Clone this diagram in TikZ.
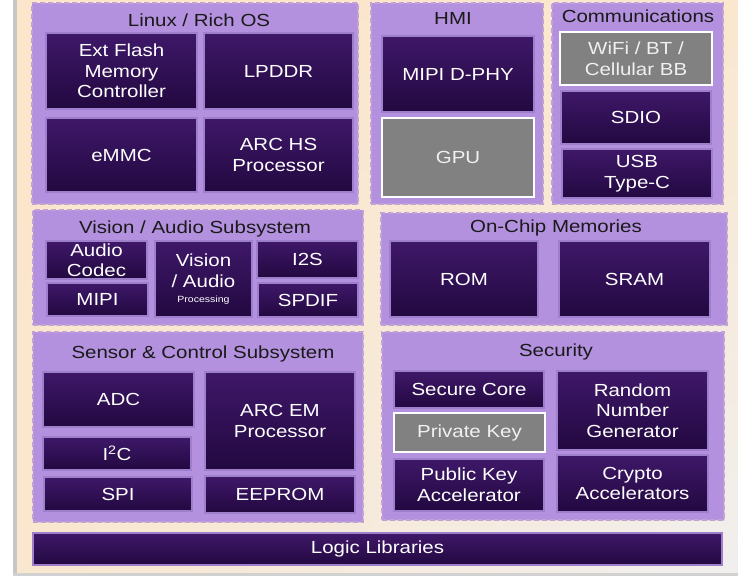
\documentclass[tikz,border=0pt]{standalone}
\usepackage{fontspec}
\setmainfont{Liberation Sans}[FakeStretch=1.17]
\usetikzlibrary{shadows,shadings}

\definecolor{grpfill}{HTML}{B391DE}
\definecolor{grpedge}{HTML}{C2A2D6}
\definecolor{boxtop}{HTML}{3F1869}
\definecolor{boxbot}{HTML}{220840}
\definecolor{boxedge}{HTML}{9D7FCC}
\definecolor{greybox}{HTML}{818181}
\definecolor{peach}{HTML}{FBE6CB}
\definecolor{paper}{HTML}{F1EFEE}
\definecolor{framegrey}{HTML}{C6C6C6}
\definecolor{ink}{HTML}{1A1A1A}

\tikzset{
  txt/.style={font=\fontsize{17.5}{20.7}\selectfont},
  group/.style={fill=grpfill, draw=grpedge, line width=1.4pt,
    dash pattern=on 5pt off 3pt, inner sep=0pt,
    drop shadow={shadow xshift=0.8pt, shadow yshift=-0.8pt, opacity=0.18}},
  grouptitle/.style={txt, text=ink, anchor=base, inner sep=0pt},
  block/.style={txt, text=white, align=center, inner sep=0pt,
    top color=boxtop, bottom color=boxbot, draw=boxedge, line width=1.1pt,
    drop shadow={shadow xshift=1.2pt, shadow yshift=-1.2pt, opacity=0.3}},
  greyblock/.style={txt, text=white!94!black, align=center, inner sep=0pt,
    fill=greybox, draw=white, line width=1.8pt,
    drop shadow={shadow xshift=1.2pt, shadow yshift=-1.2pt, opacity=0.3}},
}

% rectangle node from its corners: style, name, x1, y1, x2, y2, text
\newcommand\blk[7]{%
  \node[#1, minimum width={#5-#3}, minimum height={#6-#4}]
    (#2) at ({(#3+#5)/2},{(#4+#6)/2}) {#7};}

\begin{document}
\begin{tikzpicture}[x=1pt, y=-1pt]
\useasboundingbox (0,0) rectangle (738,576);

% page and backdrop
\fill[white] (0,0) rectangle (738,576);
\shade[upper left=peach, upper right=peach!92!paper,
       lower left=peach!90!paper, lower right=paper] (17,0) rectangle (738,573);
\fill[framegrey] (13,0) rectangle (17,576);
\fill[framegrey!80!white] (13,573) rectangle (738,576);

% ---------- Linux / Rich OS ----------
\blk{group}{linux}{32}{3}{358}{204}{}
\node[grouptitle] (tlinux) at (199,26) {Linux / Rich OS};
\blk{block}{extflash}{46}{33}{197}{109}{Ext Flash\\Memory\\Controller}
\blk{block}{lpddr}{204}{33}{353}{109}{LPDDR}
\blk{block}{emmc}{46}{118}{197}{192}{eMMC}
\blk{block}{archs}{204}{118}{353}{192}{ARC HS\\Processor}

% ---------- HMI ----------
\blk{group}{hmi}{371}{3}{543}{204}{}
\node[grouptitle] (thmi) at (453,24) {HMI};
\blk{block}{dphy}{382}{36}{534}{112}{MIPI D-PHY}
\blk{greyblock}{gpu}{382}{118}{534}{197}{GPU}

% ---------- Communications ----------
\blk{group}{comms}{552}{3}{723}{204}{}
\node[grouptitle] (tcomms) at (638,22) {Communications};
\blk{greyblock}{wifi}{560}{32}{712}{85}{WiFi / BT /\\Cellular BB}
\blk{block}{sdio}{561}{91}{711}{144}{SDIO}
\blk{block}{usb}{562}{149}{712}{198}{USB\\Type-C}

% ---------- Vision / Audio Subsystem ----------
\blk{group}{vision}{33}{210}{363}{325}{}
\node[grouptitle] (tvision) at (195,233) {Vision / Audio Subsystem};
\blk{block}{codec}{46}{241}{147}{279}{Audio\\[-1pt]Codec}
\blk{block}{mipi}{47}{283}{148}{316}{MIPI}
\blk{block}{vproc}{155}{241}{252}{317}{Vision\\/ Audio\\[-6pt]{\fontsize{9}{10}\selectfont Processing}}
\blk{block}{i2s}{257}{241}{358}{278}{I2S}
\blk{block}{spdif}{258}{283}{358}{317}{SPDIF}

% ---------- On-Chip Memories ----------
\blk{group}{onchip}{381}{213}{727}{325}{}
\node[grouptitle] (tonchip) at (556,232) {On-Chip Memories};
\blk{block}{rom}{390}{241}{538}{317}{ROM}
\blk{block}{sram}{559}{241}{710}{317}{SRAM}

% ---------- Sensor & Control Subsystem ----------
\blk{group}{sensor}{33}{332}{363}{522}{}
\node[grouptitle] (tsensor) at (203,358) {Sensor \& Control Subsystem};
\blk{block}{adc}{43}{372}{194}{427}{ADC}
\blk{block}{arcem}{205}{372}{355}{470}{ARC EM\\Processor}
\blk{block}{i2c}{43}{437}{191}{470}{I\textsuperscript{2}C}
\blk{block}{spi}{44}{477}{192}{511}{SPI}
\blk{block}{eeprom}{205}{476}{355}{513}{EEPROM}

% ---------- Security ----------
\blk{group}{security}{382}{332}{724}{520}{}
\node[grouptitle] (tsecurity) at (556,356) {Security};
\blk{block}{securecore}{394}{371}{544}{408}{Secure Core}
\blk{greyblock}{privkey}{394}{413}{545}{452}{Private Key}
\blk{block}{pubkey}{394}{459}{544}{511}{Public Key\\Accelerator}
\blk{block}{rng}{557}{371}{708}{450}{Random\\Number\\Generator}
\blk{block}{crypto}{557}{455}{708}{512}{Crypto\\Accelerators}

% ---------- Logic Libraries ----------
\blk{block}{logic}{33}{533}{722}{565}{Logic Libraries}
\end{tikzpicture}
\end{document}
